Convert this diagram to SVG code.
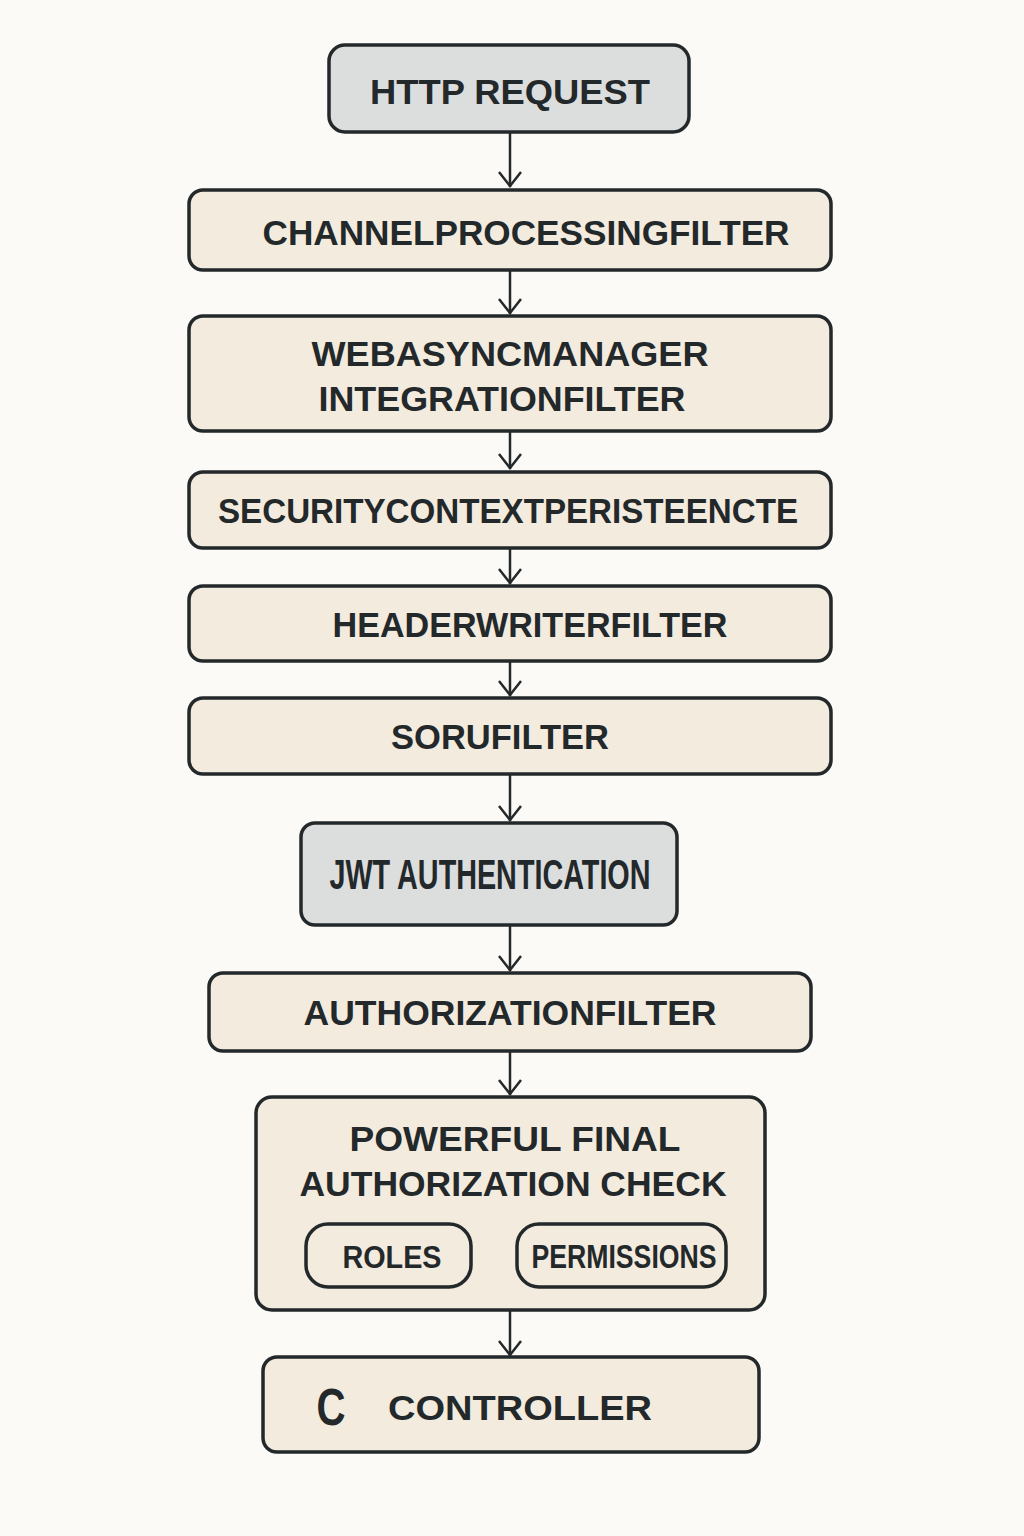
<svg xmlns="http://www.w3.org/2000/svg" width="1024" height="1536" viewBox="0 0 1024 1536">
  <style>
    .box { fill: #f3ebdd; stroke: #23282b; stroke-width: 3.5; }
    .grey { fill: #dcdddd; }
    .lbl { font-family: "Liberation Sans", Arial, sans-serif; font-weight: bold; fill: #23282b; text-anchor: middle; font-size: 35px; }
    .cond { font-family: "Liberation Sans Narrow", "Liberation Sans", Arial, sans-serif; }
    .edge { fill: none; stroke: #23282b; stroke-width: 2.5; }
  </style>
  <rect width="1024" height="1536" fill="#fcfaf6"/>

  <g id="connectors">
    <line class="edge" x1="510" y1="132" x2="510" y2="187"/>
    <line class="edge" x1="510" y1="270" x2="510" y2="314"/>
    <line class="edge" x1="510" y1="431" x2="510" y2="469"/>
    <line class="edge" x1="510" y1="548" x2="510" y2="584"/>
    <line class="edge" x1="510" y1="661" x2="510" y2="696"/>
    <line class="edge" x1="510" y1="774" x2="510" y2="821"/>
    <line class="edge" x1="510" y1="925" x2="510" y2="971"/>
    <line class="edge" x1="510" y1="1051" x2="510" y2="1095"/>
    <line class="edge" x1="510" y1="1310" x2="510" y2="1356"/>
    <!-- open chevron heads -->
    <path class="edge" d="M499 172 L510 186 L521 172"/>
    <path class="edge" d="M499 299 L510 313 L521 299"/>
    <path class="edge" d="M499 454 L510 468 L521 454"/>
    <path class="edge" d="M499 569 L510 583 L521 569"/>
    <path class="edge" d="M499 681 L510 695 L521 681"/>
    <path class="edge" d="M499 806 L510 820 L521 806"/>
    <path class="edge" d="M499 956 L510 970 L521 956"/>
    <path class="edge" d="M499 1080 L510 1094 L521 1080"/>
    <path class="edge" d="M499 1341 L510 1355 L521 1341"/>
  </g>

  <g id="http-request">
    <rect class="box grey" x="329" y="45" width="360" height="87" rx="16"/>
    <text class="lbl" x="510" y="104" textLength="280" lengthAdjust="spacingAndGlyphs">HTTP REQUEST</text>
  </g>

  <g id="channel-processing-filter">
    <rect class="box" x="189" y="190" width="642" height="80" rx="14"/>
    <text class="lbl" x="526" y="245" textLength="527" lengthAdjust="spacingAndGlyphs">CHANNELPROCESSINGFILTER</text>
  </g>

  <g id="web-async-manager-integration-filter">
    <rect class="box" x="189" y="316" width="642" height="115" rx="14"/>
    <text class="lbl" x="510" y="366" textLength="397" lengthAdjust="spacingAndGlyphs">WEBASYNCMANAGER</text>
    <text class="lbl" x="502" y="411" textLength="367" lengthAdjust="spacingAndGlyphs">INTEGRATIONFILTER</text>
  </g>

  <g id="security-context-persistence">
    <rect class="box" x="189" y="472" width="642" height="76" rx="14"/>
    <text class="lbl" x="508" y="523" textLength="580" lengthAdjust="spacingAndGlyphs">SECURITYCONTEXTPERISTEENCTE</text>
  </g>

  <g id="header-writer-filter">
    <rect class="box" x="189" y="586" width="642" height="75" rx="14"/>
    <text class="lbl" x="530" y="637" textLength="395" lengthAdjust="spacingAndGlyphs">HEADERWRITERFILTER</text>
  </g>

  <g id="soru-filter">
    <rect class="box" x="189" y="698" width="642" height="76" rx="14"/>
    <text class="lbl" x="500" y="749" textLength="218" lengthAdjust="spacingAndGlyphs">SORUFILTER</text>
  </g>

  <g id="jwt-authentication">
    <rect class="box grey" x="301" y="823" width="376" height="102" rx="14"/>
    <text class="lbl cond" x="490" y="889" style="font-size:43px" textLength="321" lengthAdjust="spacingAndGlyphs">JWT AUTHENTICATION</text>
  </g>

  <g id="authorization-filter">
    <rect class="box" x="209" y="973" width="602" height="78" rx="14"/>
    <text class="lbl" x="510" y="1025" textLength="413" lengthAdjust="spacingAndGlyphs">AUTHORIZATIONFILTER</text>
  </g>

  <g id="final-authorization-check">
    <rect class="box" x="256" y="1097" width="509" height="213" rx="16"/>
    <text class="lbl" x="515" y="1151" textLength="331" lengthAdjust="spacingAndGlyphs">POWERFUL FINAL</text>
    <text class="lbl" x="513" y="1196" textLength="427" lengthAdjust="spacingAndGlyphs">AUTHORIZATION  CHECK</text>
    <g id="roles">
      <rect class="box" x="306" y="1224" width="165" height="63" rx="22"/>
      <text class="lbl" x="392" y="1268" style="font-size:32px" textLength="99" lengthAdjust="spacingAndGlyphs">ROLES</text>
    </g>
    <g id="permissions">
      <rect class="box" x="517" y="1224" width="209" height="63" rx="22"/>
      <text class="lbl cond" x="624" y="1268" style="font-size:34px" textLength="185" lengthAdjust="spacingAndGlyphs">PERMISSIONS</text>
    </g>
  </g>

  <g id="controller">
    <rect class="box" x="263" y="1357" width="496" height="95" rx="14"/>
    <text class="lbl cond" x="331" y="1425" style="font-size:52px" textLength="29" lengthAdjust="spacingAndGlyphs">C</text>
    <text class="lbl" x="520" y="1420" textLength="264" lengthAdjust="spacingAndGlyphs">CONTROLLER</text>
  </g>
</svg>
